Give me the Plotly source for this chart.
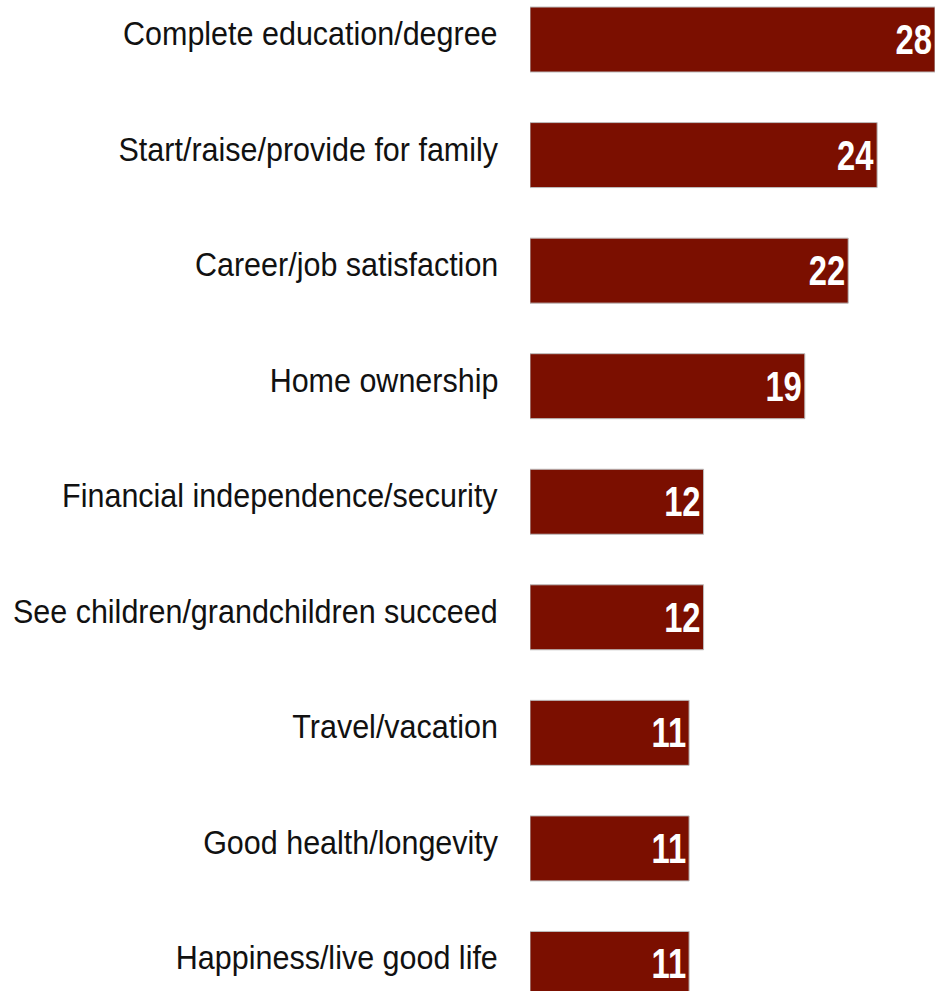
import plotly.graph_objects as go

# Life goals, share of respondents (%)
categories = [
    "Complete education/degree",
    "Start/raise/provide for family",
    "Career/job satisfaction",
    "Home ownership",
    "Financial independence/security",
    "See children/grandchildren succeed",
    "Travel/vacation",
    "Good health/longevity",
    "Happiness/live good life",
]
values = [28, 24, 22, 19, 12, 12, 11, 11, 11]

BAR_COLOR = "#7B0F00"
LABEL_FONT = "Liberation Sans, Arial, sans-serif"

fig = go.Figure(
    go.Bar(
        x=values,
        y=categories,
        orientation="h",
        width=0.5625,
        marker=dict(color=BAR_COLOR, line=dict(color="#BDBDBD", width=1)),
        text=[str(v) for v in values],
        textposition="inside",
        insidetextanchor="end",
        textangle=0,
        textfont=dict(family=LABEL_FONT, size=42, color="white", weight="bold"),
        cliponaxis=False,
    )
)

# Category labels drawn as right-aligned annotations left of the bars
for cat in categories:
    fig.add_annotation(
        x=0,
        xref="paper",
        y=cat,
        yref="y",
        xanchor="right",
        yanchor="middle",
        align="right",
        xshift=-30,
        yshift=6,
        showarrow=False,
        text=cat,
        font=dict(family=LABEL_FONT, size=33.5, color="#111111"),
    )

fig.update_layout(
    width=936,
    height=991,
    margin=dict(l=530, r=1, t=0, b=0),
    paper_bgcolor="white",
    plot_bgcolor="white",
    showlegend=False,
    xaxis=dict(
        range=[0, 28],
        visible=False,
        fixedrange=True,
    ),
    yaxis=dict(
        type="category",
        categoryorder="array",
        categoryarray=categories,
        range=[8.234, -0.342],
        automargin=False,
        showgrid=False,
        zeroline=False,
        showline=False,
        showticklabels=False,
        ticks="",
    ),
)

# Condensed type: squeeze the value labels and category labels horizontally
condense_text = """
var gd = document.getElementsByClassName('plotly-graph-div')[0];
function squeeze(t, f, keepRight) {
  if (t.getAttribute('data-condensed')) return;
  var w = t.getComputedTextLength();
  var nw = w * f;
  t.setAttribute('textLength', nw.toFixed(2));
  t.setAttribute('lengthAdjust', 'spacingAndGlyphs');
  if (keepRight) {
    var x0 = parseFloat(t.getAttribute('x') || '0');
    t.setAttribute('x', (x0 + (w - nw) / 2).toFixed(2));
  }
  t.setAttribute('data-condensed', '1');
}
function condense() {
  gd.querySelectorAll('text.bartext').forEach(function (t) { squeeze(t, 0.78, true); });
  gd.querySelectorAll('text.annotation-text').forEach(function (t) { squeeze(t, 0.91, false); });
}
condense();
gd.on('plotly_afterplot', condense);
"""

fig.write_html("out.html", post_script=condense_text)
